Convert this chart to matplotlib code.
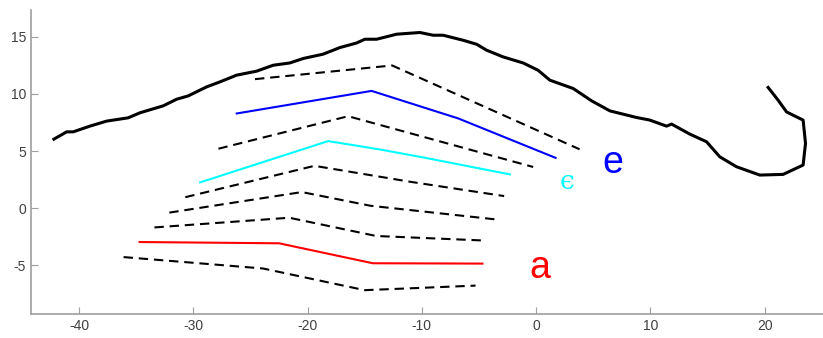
import numpy as np
import matplotlib.pyplot as plt

plt.rcParams['axes.unicode_minus'] = False

# outline (thick black curve)
outline_x = [-42.2, -41.08, -40.51, -39.05, -37.59, -35.70, -34.67, -32.63, -31.46, -30.45,
             -28.84, -27.67, -26.21, -24.46, -23.01, -21.55, -20.39, -18.64, -17.17, -15.71,
             -14.99, -13.96, -12.21, -10.17, -9.01, -8.14, -6.39, -5.21, -4.34, -2.89,
             -1.14, 0.17, 1.20, 3.24, 4.85, 6.45, 7.61, 8.78, 9.95, 11.41,
             11.85, 13.45, 14.91, 16.07, 17.53, 19.57, 21.61, 23.36, 23.57, 23.36,
             22.48, 21.91, 21.17, 20.30]
outline_y = [6.04, 6.68, 6.68, 7.18, 7.62, 7.91, 8.35, 8.96, 9.54, 9.83,
             10.62, 11.06, 11.65, 12.00, 12.52, 12.72, 13.11, 13.49, 14.07, 14.47,
             14.80, 14.80, 15.24, 15.39, 15.15, 15.15, 14.71, 14.36, 13.84, 13.25,
             12.72, 12.08, 11.21, 10.48, 9.40, 8.52, 8.23, 7.94, 7.71, 7.18,
             7.36, 6.48, 5.81, 4.49, 3.62, 2.89, 2.95, 3.77, 5.67, 7.71,
             8.14, 8.43, 9.46, 10.57]

# dashed black lines, bottom to top
dash_lines = [
    ([-36.1, -23.9, -15.0, -5.3], [-4.3, -5.3, -7.2, -6.8]),
    ([-33.4, -21.6, -14.0, -4.5], [-1.7, -0.85, -2.45, -2.85]),
    ([-32.1, -20.5, -14.5, -3.5], [-0.4, 1.4, 0.2, -1.0]),
    ([-30.7, -19.4, -11.0, -2.8], [0.95, 3.7, 2.3, 1.05]),
    ([-27.8, -16.45, -0.26], [5.2, 8.05, 3.6]),
    ([-24.6, -12.6, 3.8], [11.3, 12.5, 5.15]),
]

# coloured lines
red_x = [-34.7, -22.5, -14.3, -4.7]
red_y = [-2.98, -3.09, -4.84, -4.87]
cyan_x = [-29.4, -18.2, -13.7, -9.9, -2.3]
cyan_y = [2.25, 5.87, 5.14, 4.44, 2.95]
blue_x = [-26.2, -14.4, -6.8, 1.7]
blue_y = [8.29, 10.27, 7.85, 4.40]

fig = plt.figure(figsize=(8.23, 3.38), dpi=100)
ax = fig.add_axes([0.0377, 0.072, 0.9623, 0.898])

ax.plot(outline_x, outline_y, color='k', linewidth=2.2)
for xs, ys in dash_lines:
    ax.plot(xs, ys, color='k', linewidth=1.5, linestyle=(0, (4.5, 2.8)))
ax.plot(red_x, red_y, color='red', linewidth=1.5)
ax.plot(cyan_x, cyan_y, color='cyan', linewidth=1.5)
ax.plot(blue_x, blue_y, color='blue', linewidth=1.5)

ax.text(0.3, -5.25, 'a', color='red', fontsize=27, ha='center', va='center',
        family='Liberation Sans')
ax.text(6.7, 3.95, 'e', color='blue', fontsize=27, ha='center', va='center',
        family='Liberation Sans')
ax.text(2.7, 2.3, '\u03f5', color='cyan', fontsize=19, ha='center', va='center',
        family='DejaVu Serif')

ax.set_xlim(-44.2, 25.1)
ax.set_ylim(-9.26, 17.35)
ax.set_xticks([-40, -30, -20, -10, 0, 10, 20])
ax.set_yticks([-5, 0, 5, 10, 15])

for s in ['top', 'right']:
    ax.spines[s].set_visible(False)
for s in ['left', 'bottom']:
    ax.spines[s].set_color('0.62')
    ax.spines[s].set_linewidth(1.2)
ax.tick_params(direction='in', length=5, color='0.62', labelcolor='0.25',
               labelsize=10)
for lbl in ax.get_xticklabels() + ax.get_yticklabels():
    lbl.set_family('Liberation Sans')

plt.savefig('out.png', dpi=100)
